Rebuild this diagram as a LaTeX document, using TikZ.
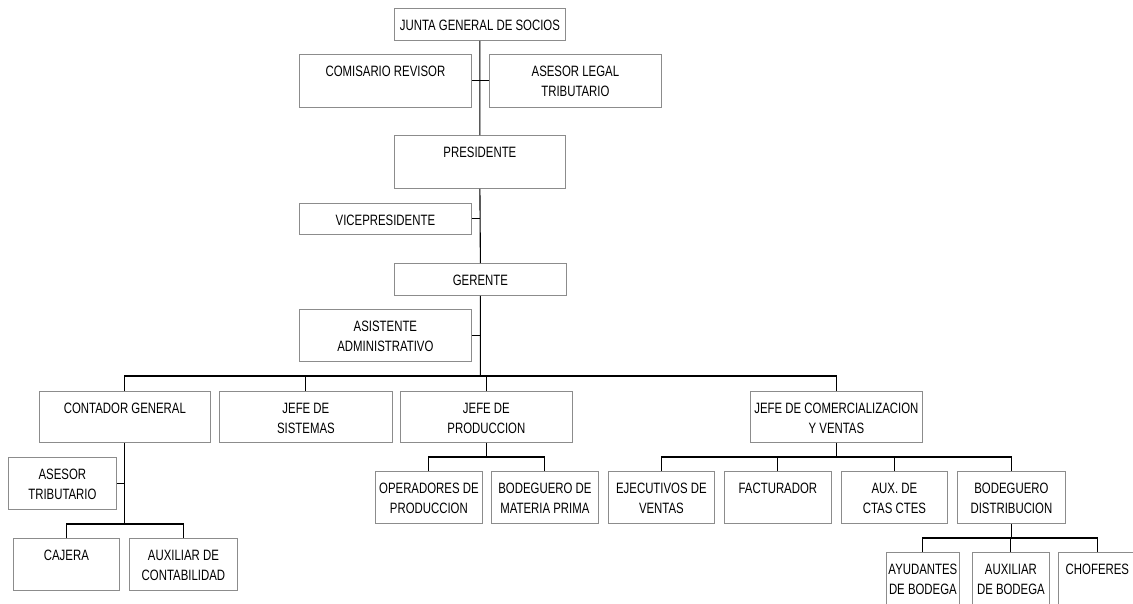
\documentclass[tikz,border=0pt]{standalone}
\usepackage{fontspec}
\setmainfont{Liberation Sans}[FakeStretch=0.76]

\newcommand{\cajatexto}[3]{%
  \parbox[c][#2pt][t]{#1pt}{\centering\fontsize{15}{20.5}\selectfont\rule{0pt}{22pt}#3}%
}

\begin{document}
\begin{tikzpicture}[x=1pt, y=-1pt, caja/.style={draw=black!45, line width=0.8pt, inner sep=0pt, anchor=north west}, linea/.style={black, line width=1.1pt}]
				\clip (0,0) rectangle (1133,603);
				\node[caja] (junta) at (394,8) {\cajatexto{171}{32}{JUNTA GENERAL DE SOCIOS}};
				\node[caja] (comisario) at (299,54) {\cajatexto{172}{53}{COMISARIO REVISOR}};
				\node[caja] (legal) at (489,54) {\cajatexto{172}{53}{ASESOR LEGAL\\TRIBUTARIO}};
				\node[caja] (presidente) at (394,135) {\cajatexto{171}{53}{PRESIDENTE}};
				\node[caja] (vice) at (299,203) {\cajatexto{172}{31}{VICEPRESIDENTE}};
				\node[caja] (gerente) at (394,263) {\cajatexto{172}{32}{GERENTE}};
				\node[caja] (asistente) at (299,309) {\cajatexto{172}{52}{ASISTENTE\\ADMINISTRATIVO}};

				\node[caja] (contador) at (39,391) {\cajatexto{171}{51}{CONTADOR GENERAL}};
				\node[caja] (sistemas) at (219,391) {\cajatexto{173}{51}{JEFE DE\\SISTEMAS}};
				\node[caja] (produccion) at (400,391) {\cajatexto{172}{51}{JEFE DE\\PRODUCCION}};
				\node[caja] (comercial) at (750,391) {\cajatexto{172}{51}{JEFE DE COMERCIALIZACION\\Y VENTAS}};

				\node[caja] (tributario) at (8,457) {\cajatexto{108}{52}{ASESOR\\TRIBUTARIO}};
				\node[caja] (cajera) at (13,538) {\cajatexto{106}{52}{CAJERA}};
				\node[caja] (auxcont) at (129,538) {\cajatexto{108}{52}{AUXILIAR DE\\CONTABILIDAD}};
				\node[caja] (operadores) at (375,471) {\cajatexto{107}{52}{OPERADORES DE\\PRODUCCION}};
				\node[caja] (bodmp) at (491,471) {\cajatexto{107}{52}{BODEGUERO DE\\MATERIA PRIMA}};
				\node[caja] (ejecutivos) at (608,471) {\cajatexto{106}{52}{EJECUTIVOS DE\\VENTAS}};
				\node[caja] (facturador) at (724,471) {\cajatexto{107}{52}{FACTURADOR}};
				\node[caja] (auxctas) at (841,471) {\cajatexto{106}{52}{AUX. DE\\CTAS CTES}};
				\node[caja] (boddist) at (957,471) {\cajatexto{108}{52}{BODEGUERO\\DISTRIBUCION}};
				\node[caja] (ayudantes) at (886,552) {\cajatexto{73}{56}{AYUDANTES\\DE BODEGA}};
				\node[caja] (auxbod) at (972,552) {\cajatexto{77}{56}{AUXILIAR\\DE BODEGA}};
				\node[caja] (choferes) at (1058,552) {\cajatexto{78}{56}{CHOFERES}};

				\coordinate (nivel) at (0,376); \coordinate (nivelp) at (0,457); \coordinate (nivelc) at (0,524); \coordinate (nivelb) at (0,538);

				\draw[linea] (junta.south) -- (presidente.north) (presidente.south) -- (gerente.north) (gerente.south) -- (gerente.south |- nivel);
				\draw[linea] (comisario.east) -- (legal.west);
				\draw[linea] (vice.east) -- (vice.east -| gerente.north);
				\draw[linea] (asistente.east) -- (asistente.east -| gerente.south);
				\draw[linea] (contador.north) |- (nivel -| comercial.north) -- (comercial.north);
				\draw[linea] (sistemas.north) -- (sistemas.north |- nivel) (produccion.north) -- (produccion.north |- nivel);

				\draw[linea] (contador.south) -- (contador.south |- nivelc);
				\draw[linea] (tributario.east) -- (tributario.east -| contador.south);
				\draw[linea] (cajera.north) |- (nivelc -| auxcont.north) -- (auxcont.north);

				\draw[linea] (produccion.south) -- (produccion.south |- nivelp);
				\draw[linea] (operadores.north) |- (nivelp -| bodmp.north) -- (bodmp.north);
				\draw[linea] (comercial.south) -- (comercial.south |- nivelp);
				\draw[linea] (ejecutivos.north) |- (nivelp -| boddist.north) -- (boddist.north);
				\draw[linea] (facturador.north) -- (facturador.north |- nivelp) (auxctas.north) -- (auxctas.north |- nivelp);

				\draw[linea] (boddist.south) -- (boddist.south |- nivelb);
				\draw[linea] (ayudantes.north) |- (nivelb -| choferes.north) -- (choferes.north);
				\draw[linea] (auxbod.north) -- (auxbod.north |- nivelb);
			\end{tikzpicture}
\end{document}
